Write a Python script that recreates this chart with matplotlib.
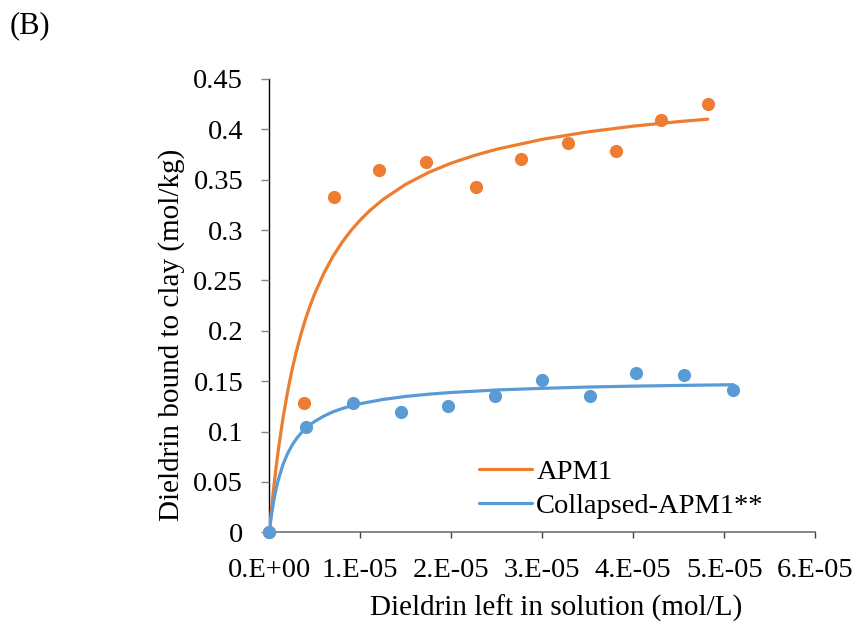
import matplotlib
matplotlib.use("Agg")
import matplotlib.pyplot as plt

plt.rcParams['font.family'] = ['Liberation Serif', 'DejaVu Serif']

# measured isotherm points (x in mol/L, y in mol/kg)
apm1_x = [0.0, 0.387e-5, 0.714e-5, 1.210e-5, 1.723e-5, 2.269e-5, 2.769e-5,
          3.282e-5, 3.807e-5, 4.303e-5, 4.819e-5]
apm1_y = [0.0, 0.1288, 0.3328, 0.3596, 0.3672, 0.3430, 0.3709,
          0.3861, 0.3788, 0.4093, 0.4252]

coll_x = [0.0, 0.408e-5, 0.916e-5, 1.445e-5, 1.962e-5, 2.483e-5, 2.992e-5,
          3.529e-5, 4.029e-5, 4.555e-5, 5.100e-5]
coll_y = [0.0, 0.1043, 0.1281, 0.1192, 0.1258, 0.1358, 0.1513,
          0.1351, 0.1583, 0.1563, 0.1417]

# fitted curves, sampled
apm1_fit_x = [0.0, 0.025e-5, 0.05e-5, 0.075e-5, 0.1e-5, 0.15e-5, 0.2e-5, 0.25e-5,
              0.3e-5, 0.35e-5, 0.4e-5, 0.45e-5, 0.5e-5, 0.6e-5, 0.7e-5, 0.8e-5,
              0.9e-5, 1.0e-5, 1.1e-5, 1.25e-5, 1.5e-5, 1.75e-5, 2.0e-5, 2.25e-5,
              2.5e-5, 3.0e-5, 3.5e-5, 4.0e-5, 4.5e-5, 4.819e-5]
apm1_fit_y = [0.0, 0.0238, 0.0453, 0.0646, 0.0822, 0.1129, 0.1389, 0.1612,
              0.1804, 0.1972, 0.2121, 0.2253, 0.2370, 0.2572, 0.2739, 0.2879,
              0.2998, 0.3100, 0.3190, 0.3304, 0.3455, 0.3572, 0.3665, 0.3740,
              0.3803, 0.3901, 0.3975, 0.4032, 0.4077, 0.4101]

coll_fit_x = [0.0, 0.025e-5, 0.05e-5, 0.075e-5, 0.1e-5, 0.15e-5, 0.2e-5, 0.25e-5,
              0.3e-5, 0.35e-5, 0.4e-5, 0.45e-5, 0.5e-5, 0.6e-5, 0.7e-5, 0.8e-5,
              0.9e-5, 1.0e-5, 1.25e-5, 1.5e-5, 1.75e-5, 2.0e-5, 2.5e-5,
              3.0e-5, 3.5e-5, 4.0e-5, 4.5e-5, 5.1e-5]
coll_fit_y = [0.0, 0.0177, 0.0317, 0.0430, 0.0524, 0.0671, 0.0779, 0.0864,
              0.0931, 0.0985, 0.1031, 0.1069, 0.1101, 0.1154, 0.1196, 0.1228,
              0.1255, 0.1277, 0.1319, 0.1349, 0.1371, 0.1388, 0.1413,
              0.1429, 0.1442, 0.1451, 0.1458, 0.1465]

xticks = [0, 1e-5, 2e-5, 3e-5, 4e-5, 5e-5, 6e-5]
xtick_labels = ['0.E+00', '1.E-05', '2.E-05', '3.E-05', '4.E-05', '5.E-05', '6.E-05']
yticks = [0, 0.05, 0.1, 0.15, 0.2, 0.25, 0.3, 0.35, 0.4, 0.45]
ytick_labels = ['0', '0.05', '0.1', '0.15', '0.2', '0.25', '0.3', '0.35', '0.4', '0.45']

orange = '#ED7D31'
blue = '#5B9BD5'

fig = plt.figure(figsize=(8.57, 6.22), dpi=100)
ax = fig.add_axes([0.3142, 0.1442, 0.6371, 0.7288])

ax.plot(apm1_fit_x, apm1_fit_y, color=orange, lw=2.3, label='APM1', zorder=2,
        solid_joinstyle='round', solid_capstyle='round')
ax.plot(coll_fit_x, coll_fit_y, color=blue, lw=2.3, label='Collapsed-APM1**', zorder=2,
        solid_joinstyle='round', solid_capstyle='round')
ax.plot(apm1_x, apm1_y, 'o', color=orange, ms=9.5, mec='none', zorder=3, clip_on=False)
ax.plot(coll_x, coll_y, 'o', color=blue, ms=9.5, mec='none', zorder=4, clip_on=False)

ax.set_xlim(0, 6e-5)
ax.set_ylim(0, 0.45)
ax.set_xticks(xticks)
ax.set_xticklabels(xtick_labels)
ax.set_yticks(yticks)
ax.set_yticklabels(ytick_labels)

for s in ['top', 'right']:
    ax.spines[s].set_visible(False)
ax.spines['left'].set_color('black')
ax.spines['left'].set_linewidth(1.0)
ax.spines['bottom'].set_color('#868686')
ax.spines['bottom'].set_linewidth(1.4)
ax.spines['left'].set_zorder(1)
ax.spines['bottom'].set_zorder(1)

ax.tick_params(axis='y', direction='out', length=5.8, width=1.0, color='#868686',
               labelsize=20.5, pad=13)
ax.tick_params(axis='x', direction='out', length=4.3, width=1.0, color='#404040',
               labelsize=20.5, pad=14.5)

ax.set_xlabel('Dieldrin left in solution (mol/L)', fontsize=21, va='center')
ax.set_ylabel('Dieldrin bound to clay (mol/kg)', fontsize=21, va='center', ha='center')
ax.xaxis.set_label_coords(0.525, -0.167)
ax.yaxis.set_label_coords(-0.179, 0.435)

ax.legend(loc='upper left', bbox_to_anchor=(479 / 857, 1 - 459 / 622),
          bbox_transform=fig.transFigure, frameon=False, fontsize=20.5,
          handlelength=1.86, handletextpad=0.15, borderpad=0, borderaxespad=0,
          labelspacing=0.28)

fig.text(10 / 857, 1 - 25.5 / 622, '(B)', fontsize=22, va='center', ha='left')

fig.savefig('out.png', dpi=100)
